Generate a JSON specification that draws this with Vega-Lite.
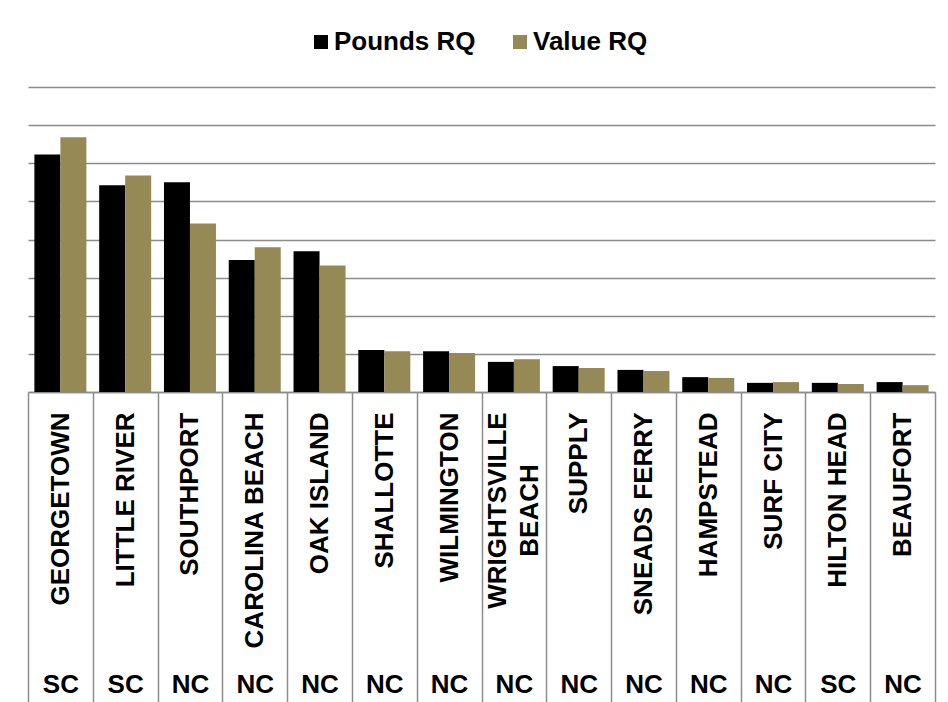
{
  "$schema": "https://vega.github.io/schema/vega-lite/v6.json",
  "width": 907,
  "height": 305,
  "autosize": {"type": "none"},
  "padding": {"left": 28, "top": 87, "right": 13, "bottom": 310},
  "background": "white",
  "config": {
    "view": {"stroke": null},
    "font": "Liberation Sans",
    "axis": {"labelFont": "Liberation Sans", "labelFontWeight": "bold", "labelColor": "#000000"}
  },
  "data": {
    "values": [
      {"city": "GEORGETOWN", "state": "SC", "series": "Pounds RQ", "value": 6.23},
      {"city": "GEORGETOWN", "state": "SC", "series": "Value RQ", "value": 6.68},
      {"city": "LITTLE RIVER", "state": "SC", "series": "Pounds RQ", "value": 5.42},
      {"city": "LITTLE RIVER", "state": "SC", "series": "Value RQ", "value": 5.68},
      {"city": "SOUTHPORT", "state": "NC", "series": "Pounds RQ", "value": 5.50},
      {"city": "SOUTHPORT", "state": "NC", "series": "Value RQ", "value": 4.42},
      {"city": "CAROLINA BEACH", "state": "NC", "series": "Pounds RQ", "value": 3.46},
      {"city": "CAROLINA BEACH", "state": "NC", "series": "Value RQ", "value": 3.80},
      {"city": "OAK ISLAND", "state": "NC", "series": "Pounds RQ", "value": 3.69},
      {"city": "OAK ISLAND", "state": "NC", "series": "Value RQ", "value": 3.32},
      {"city": "SHALLOTTE", "state": "NC", "series": "Pounds RQ", "value": 1.10},
      {"city": "SHALLOTTE", "state": "NC", "series": "Value RQ", "value": 1.07},
      {"city": "WILMINGTON", "state": "NC", "series": "Pounds RQ", "value": 1.07},
      {"city": "WILMINGTON", "state": "NC", "series": "Value RQ", "value": 1.02},
      {"city": "WRIGHTSVILLE BEACH", "state": "NC", "series": "Pounds RQ", "value": 0.79},
      {"city": "WRIGHTSVILLE BEACH", "state": "NC", "series": "Value RQ", "value": 0.86},
      {"city": "SUPPLY", "state": "NC", "series": "Pounds RQ", "value": 0.68},
      {"city": "SUPPLY", "state": "NC", "series": "Value RQ", "value": 0.63},
      {"city": "SNEADS FERRY", "state": "NC", "series": "Pounds RQ", "value": 0.58},
      {"city": "SNEADS FERRY", "state": "NC", "series": "Value RQ", "value": 0.55},
      {"city": "HAMPSTEAD", "state": "NC", "series": "Pounds RQ", "value": 0.39},
      {"city": "HAMPSTEAD", "state": "NC", "series": "Value RQ", "value": 0.37},
      {"city": "SURF CITY", "state": "NC", "series": "Pounds RQ", "value": 0.24},
      {"city": "SURF CITY", "state": "NC", "series": "Value RQ", "value": 0.26},
      {"city": "HILTON HEAD", "state": "SC", "series": "Pounds RQ", "value": 0.24},
      {"city": "HILTON HEAD", "state": "SC", "series": "Value RQ", "value": 0.21},
      {"city": "BEAUFORT", "state": "NC", "series": "Pounds RQ", "value": 0.26},
      {"city": "BEAUFORT", "state": "NC", "series": "Value RQ", "value": 0.18}
    ]
  },
  "layer": [
    {
      "mark": {"type": "bar"},
      "encoding": {
        "x": {
          "field": "city",
          "type": "nominal",
          "sort": null,
          "title": null,
          "scale": {"paddingInner": 0, "paddingOuter": 0},
          "axis": {
            "orient": "bottom",
            "labelAngle": 270,
            "labelAlign": {"condition": {"test": "datum.value == 'WRIGHTSVILLE BEACH'", "value": "center"}, "value": "right"},
            "labelBaseline": "middle",
            "labelPadding": {"condition": {"test": "datum.value == 'WRIGHTSVILLE BEACH'", "value": -194}, "value": -292},
            "labelOffset": {"condition": {"test": "datum.value == 'WRIGHTSVILLE BEACH'", "value": -16}, "value": 0},
            "labelFontSize": 26,
            "labelLineHeight": 32,
            "labelExpr": "datum.label == 'WRIGHTSVILLE BEACH' ? ['WRIGHTSVILLE', 'BEACH'] : datum.label",
            "labelOverlap": false,
            "labelLimit": 0,
            "ticks": true,
            "tickBand": "extent",
            "tickSize": 312,
            "tickColor": "#8c8c8c",
            "tickWidth": 1.5,
            "domainColor": "#8c8c8c",
            "domainWidth": 1.5,
            "grid": false
          }
        },
        "xOffset": {
          "field": "series",
          "type": "nominal",
          "sort": ["Pounds RQ", "Value RQ"],
          "scale": {"paddingInner": 0, "paddingOuter": 0.246}
        },
        "y": {
          "field": "value",
          "type": "quantitative",
          "title": null,
          "scale": {"domain": [0, 8], "nice": false},
          "axis": {
            "values": [0, 1, 2, 3, 4, 5, 6, 7, 8],
            "labels": false,
            "ticks": false,
            "domain": false,
            "grid": true,
            "gridColor": "#8c8c8c",
            "gridWidth": 1.5
          }
        },
        "color": {
          "field": "series",
          "type": "nominal",
          "scale": {"domain": ["Pounds RQ", "Value RQ"], "range": ["#000000", "#958A55"]},
          "legend": {
            "title": null,
            "orient": "none",
            "direction": "horizontal",
            "legendX": 280,
            "legendY": -58,
            "padding": 0,
            "symbolType": "square",
            "symbolSize": 196,
            "symbolStrokeWidth": 0,
            "labelFont": "Liberation Sans",
            "labelFontWeight": "bold",
            "labelFontSize": 26,
            "labelColor": "#000000",
            "labelOffset": 0,
            "columnPadding": 31
          }
        }
      }
    },
    {
      "transform": [{"calculate": "datum.city + '|' + datum.state", "as": "cityState"}],
      "mark": {"type": "point", "opacity": 0},
      "encoding": {
        "x": {
          "field": "cityState",
          "type": "nominal",
          "sort": null,
          "title": null,
          "axis": {
            "orient": "bottom",
            "labelAngle": 0,
            "labelAlign": "center",
            "labelBaseline": "middle",
            "labelPadding": 292,
            "labelFontSize": 26,
            "labelExpr": "split(datum.label, '|')[1]",
            "ticks": false,
            "domain": false,
            "grid": false,
            "labelOverlap": false
          }
        }
      }
    }
  ],
  "resolve": {"scale": {"x": "independent"}, "axis": {"x": "independent"}}
}
